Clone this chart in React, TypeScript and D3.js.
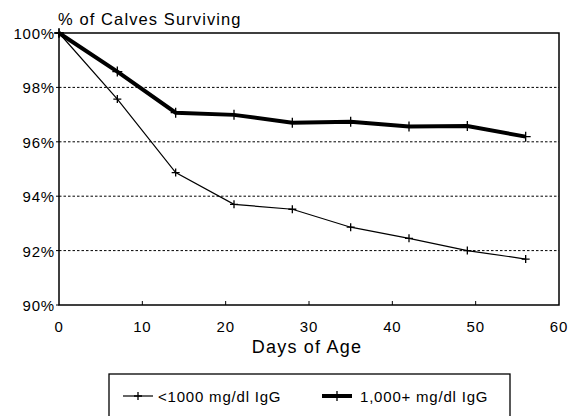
import { useEffect, useRef } from "react"
import * as d3 from "d3"

const days = [0, 7, 14, 21, 28, 35, 42, 49, 56]
const lowIgG = [100, 97.57, 94.87, 93.7, 93.52, 92.86, 92.45, 92.0, 91.69]
const highIgG = [100, 98.58, 97.07, 96.99, 96.7, 96.74, 96.56, 96.58, 96.19]
const xTicks = [0, 10, 20, 30, 40, 50, 60]
const yTicks = [90, 92, 94, 96, 98, 100]
const gridTicks = [92, 94, 96, 98]
const seriesNames = ["<1000 mg/dl IgG", "1,000+ mg/dl IgG"]

const font = "Liberation Sans, Arial, sans-serif"

export default function App() {
  const svgRef = useRef<SVGSVGElement>(null)

  useEffect(() => {
    if (!svgRef.current) return
    const svg = d3.select(svgRef.current)
    svg.selectAll("*").remove()

    const margin = { left: 59, right: 13, top: 33, bottom: 111 }
    const width = 572
    const height = 416

    const x = d3.scaleLinear().domain([0, 60]).range([margin.left, width - margin.right])
    const y = d3.scaleLinear().domain([90, 100]).range([height - margin.bottom, margin.top])

    // grid lines
    svg
      .append("g")
      .selectAll("line")
      .data(gridTicks)
      .enter()
      .append("line")
      .attr("x1", x(0))
      .attr("x2", x(60))
      .attr("y1", (d) => y(d))
      .attr("y2", (d) => y(d))
      .attr("stroke", "#000")
      .attr("stroke-width", 1)
      .attr("stroke-dasharray", "2.5,2")

    // frame
    svg
      .append("rect")
      .attr("x", x(0))
      .attr("y", y(100))
      .attr("width", x(60) - x(0))
      .attr("height", y(90) - y(100))
      .attr("fill", "none")
      .attr("stroke", "#000")
      .attr("stroke-width", 1.5)

    // x ticks (inward)
    svg
      .append("g")
      .selectAll("line")
      .data(xTicks.slice(1, -1))
      .enter()
      .append("line")
      .attr("x1", (d) => x(d))
      .attr("x2", (d) => x(d))
      .attr("y1", y(90))
      .attr("y2", y(90) - 4)
      .attr("stroke", "#000")

    // y ticks
    svg
      .append("g")
      .selectAll("line")
      .data(yTicks)
      .enter()
      .append("line")
      .attr("x1", x(0) - 3)
      .attr("x2", x(0))
      .attr("y1", (d) => y(d))
      .attr("y2", (d) => y(d))
      .attr("stroke", "#000")

    svg
      .append("g")
      .selectAll("text")
      .data(yTicks)
      .enter()
      .append("text")
      .attr("x", x(0) - 4)
      .attr("y", (d) => y(d) + 6)
      .attr("text-anchor", "end")
      .attr("font-family", font)
      .attr("font-size", 15)
      .attr("letter-spacing", 0.8)
      .text((d) => `${d}%`)

    svg
      .append("g")
      .selectAll("text")
      .data(xTicks)
      .enter()
      .append("text")
      .attr("x", (d) => x(d))
      .attr("y", y(90) + 27)
      .attr("text-anchor", "middle")
      .attr("font-family", font)
      .attr("font-size", 15)
      .attr("letter-spacing", 0.8)
      .text((d) => d)

    svg
      .append("text")
      .attr("x", 307)
      .attr("y", 353)
      .attr("text-anchor", "middle")
      .attr("font-family", font)
      .attr("font-size", 18)
      .attr("letter-spacing", 1.2)
      .text("Days of Age")

    svg
      .append("text")
      .attr("x", 58)
      .attr("y", 25)
      .attr("font-family", font)
      .attr("font-size", 16.5)
      .attr("letter-spacing", 1.1)
      .text("% of Calves Surviving")

    const line = d3
      .line<number>()
      .x((_, i) => x(days[i]))
      .y((d) => y(d))

    const drawSeries = (vals: number[], w: number, size: number) => {
      svg
        .append("path")
        .attr("d", line(vals))
        .attr("fill", "none")
        .attr("stroke", "#000")
        .attr("stroke-width", w)
      svg
        .append("g")
        .selectAll("path")
        .data(vals)
        .enter()
        .append("path")
        .attr("d", `M${-size},0H${size}M0,${-size}V${size}`)
        .attr("transform", (d, i) => `translate(${x(days[i])},${y(d)})`)
        .attr("stroke", "#000")
        .attr("stroke-width", 1.3)
    }
    drawSeries(lowIgG, 1.2, 4)
    drawSeries(highIgG, 4, 5)

    // legend
    const lg = svg.append("g")
    lg.append("rect")
      .attr("x", 109)
      .attr("y", 374)
      .attr("width", 401)
      .attr("height", 50)
      .attr("fill", "none")
      .attr("stroke", "#000")
      .attr("stroke-width", 1.3)

    const items = [
      { x: 123, tx: 158, w: 1.2, size: 4 },
      { x: 322, tx: 360, w: 4, size: 5 },
    ]
    items.forEach((it, i) => {
      lg.append("line")
        .attr("x1", it.x)
        .attr("x2", it.x + 30)
        .attr("y1", 396)
        .attr("y2", 396)
        .attr("stroke", "#000")
        .attr("stroke-width", it.w)
      lg.append("path")
        .attr("d", `M${-it.size},0H${it.size}M0,${-it.size}V${it.size}`)
        .attr("transform", `translate(${it.x + 15},396)`)
        .attr("stroke", "#000")
        .attr("stroke-width", 1.3)
      lg.append("text")
        .attr("x", it.tx)
        .attr("y", 402)
        .attr("font-family", font)
        .attr("font-size", 15)
        .attr("letter-spacing", 0.8)
        .text(seriesNames[i])
    })
  }, [])

  return (
    <svg
      ref={svgRef}
      width={572}
      height={416}
      style={{ position: "absolute", left: 0, top: 0, background: "#fff" }}
    />
  )
}
